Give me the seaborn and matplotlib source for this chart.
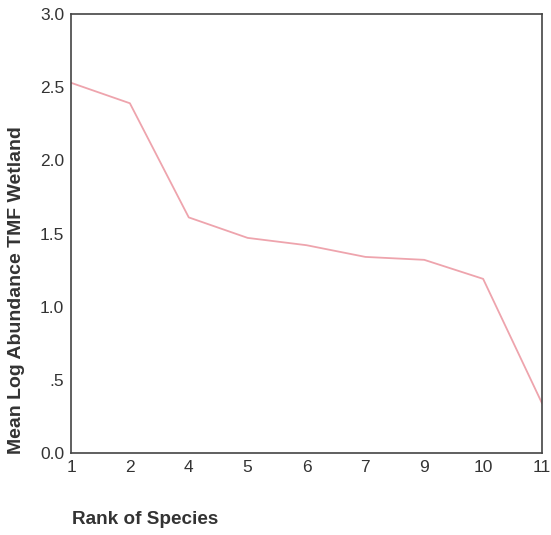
import matplotlib
matplotlib.use("Agg")
import matplotlib.pyplot as plt
import seaborn as sns
import pandas as pd

rank_labels = ["1", "2", "4", "5", "6", "7", "9", "10", "11"]
mean_log_abundance = [2.53, 2.39, 1.61, 1.47, 1.42, 1.34, 1.32, 1.19, 0.34]
y_ticks = [0.0, 0.5, 1.0, 1.5, 2.0, 2.5, 3.0]
y_tick_labels = ["0.0", ".5", "1.0", "1.5", "2.0", "2.5", "3.0"]

sns.set_theme(style="white")
plt.rcParams['font.family'] = ['Liberation Sans', 'DejaVu Sans']

df = pd.DataFrame({"rank": rank_labels, "value": mean_log_abundance})

fig = plt.figure(figsize=(5.51, 5.35), dpi=100)
ax = fig.add_axes([71/551, 82/535, 471/551, 439/535])

sns.lineplot(data=df, x="rank", y="value", ax=ax, color="#eea4ad",
             linewidth=1.3, sort=False)

ax.set_xlim(0, len(rank_labels) - 1)
ax.set_ylim(0, 3.0)
ax.set_yticks(y_ticks)
ax.set_yticklabels(y_tick_labels)
ax.set_xticks(range(len(rank_labels)))
ax.set_xticklabels(rank_labels)

for s in ax.spines.values():
    s.set_visible(True)
    s.set_color("#444444")
    s.set_linewidth(1.2)

ax.tick_params(axis="both", which="major", length=3, width=2, color="#222222",
               direction="out", labelsize=12.5, labelcolor="#333333", pad=2)

ax.set_xlabel("")
ax.set_ylabel("")
fig.text(17/551, 1 - 290/535, "Mean Log Abundance TMF Wetland", fontsize=14,
         fontweight="bold", color="#333333", rotation=90,
         ha="center", va="center")
fig.text(72/551, 1 - 520/535, "Rank of Species", fontsize=13.6,
         fontweight="bold", color="#333333", ha="left", va="center")

fig.savefig("out.png", dpi=100)
